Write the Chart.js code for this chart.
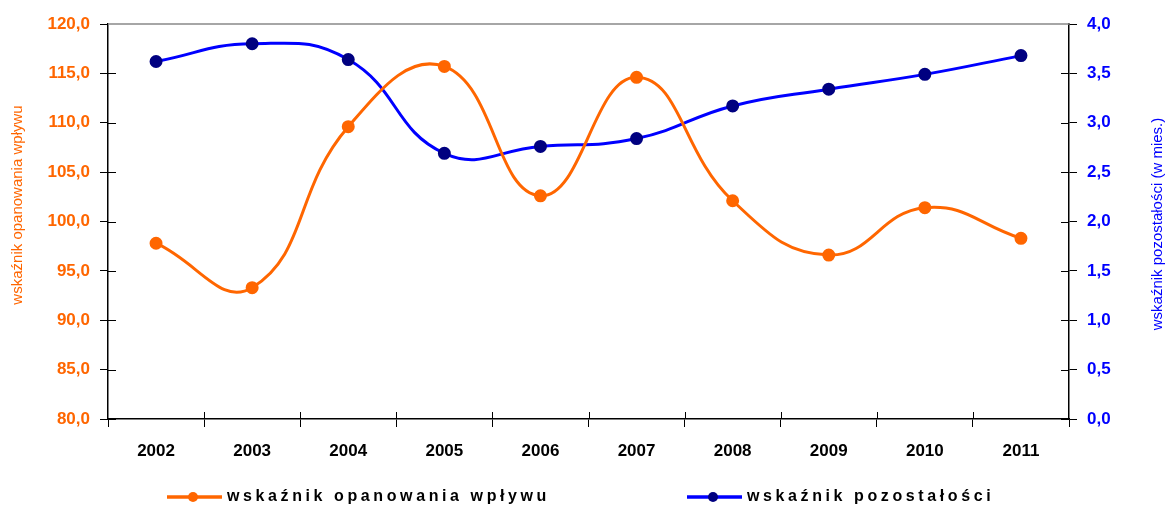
<!DOCTYPE html>
<html><head><meta charset="utf-8">
<script src="https://cdn.jsdelivr.net/npm/chart.js@4"></script>
<style>html,body{margin:0;padding:0;background:#fff}#wrap{width:1165px;height:507px}</style>
</head><body><div id="wrap"><canvas id="c" width="1165" height="507"></canvas></div>
<script>
const years = ['2002','2003','2004','2005','2006','2007','2008','2009','2010','2011'];
const opanowanie = [97.8, 93.3, 109.6, 115.7, 102.6, 114.6, 102.1, 96.6, 101.4, 98.3];
const pozostalosc = [3.62, 3.80, 3.64, 2.69, 2.76, 2.84, 3.17, 3.34, 3.49, 3.68];
const seriesNames = ['wskaźnik opanowania wpływu', 'wskaźnik pozostałości'];
const leftTitle = 'wskaźnik opanowania wpływu';
const rightTitle = 'wskaźnik pozostałości (w mies.)';

const ORANGE = '#FF6600', BLUE = '#0000FF', NAVY = '#000080';
const FONT = 'Arial, "Liberation Sans", sans-serif';
const fmt = v => Number(v).toFixed(1).replace('.', ',');

const extras = {
  id: 'extras',
  afterDraw(chart) {
    const ctx = chart.ctx, a = chart.chartArea;
    const x = chart.scales.x, y = chart.scales.y, y2 = chart.scales.y2;
    ctx.save();
    // top border
    ctx.strokeStyle = '#888'; ctx.lineWidth = 1.5;
    ctx.beginPath(); ctx.moveTo(a.left, a.top); ctx.lineTo(a.right, a.top); ctx.stroke();
    // inner tick marks
    ctx.strokeStyle = '#000'; ctx.lineWidth = 1;
    y.ticks.forEach((t, i) => {
      const py = Math.round(y.getPixelForTick(i)) + 0.5;
      if (i === y.ticks.length - 1) return;
      ctx.beginPath(); ctx.moveTo(a.left, py); ctx.lineTo(a.left + 8, py); ctx.stroke();
    });
    y2.ticks.forEach((t, i) => {
      const py = Math.round(y2.getPixelForTick(i)) + 0.5;
      if (i === y2.ticks.length - 1) return;
      ctx.beginPath(); ctx.moveTo(a.right - 8, py); ctx.lineTo(a.right, py); ctx.stroke();
    });
    for (let i = 0; i < years.length - 1; i++) {
      const px = Math.round((x.getPixelForValue(i) + x.getPixelForValue(i + 1)) / 2) + 0.5;
      ctx.beginPath(); ctx.moveTo(px, a.bottom); ctx.lineTo(px, a.bottom - 7); ctx.stroke();
    }
    // axis titles
    ctx.font = '15px ' + FONT; ctx.textAlign = 'center'; ctx.textBaseline = 'middle';
    ctx.fillStyle = ORANGE;
    ctx.save(); ctx.translate(17.5, 205); ctx.rotate(-Math.PI / 2); ctx.fillText(leftTitle, 0, 0); ctx.restore();
    ctx.fillStyle = BLUE;
    ctx.save(); ctx.translate(1158, 224); ctx.rotate(-Math.PI / 2); ctx.fillText(rightTitle, 0, 0); ctx.restore();
    // legend
    const items = [
      {x0: 167, ds: chart.data.datasets[0]},
      {x0: 687, ds: chart.data.datasets[1]}
    ];
    const ly = 497;
    items.forEach(it => {
      ctx.strokeStyle = it.ds.borderColor; ctx.lineWidth = 3.5;
      ctx.beginPath(); ctx.moveTo(it.x0, ly); ctx.lineTo(it.x0 + 55, ly); ctx.stroke();
      ctx.fillStyle = it.ds.pointBackgroundColor;
      ctx.beginPath(); ctx.arc(it.x0 + 26, ly, 5, 0, Math.PI * 2); ctx.fill();
      ctx.fillStyle = '#000'; ctx.font = 'bold 16px ' + FONT;
      ctx.textAlign = 'left'; ctx.textBaseline = 'middle';
      try { ctx.letterSpacing = '3.6px'; } catch (e) {}
      ctx.fillText(it.ds.label, it.x0 + 60, ly);
      try { ctx.letterSpacing = '0px'; } catch (e) {}
    });
    ctx.restore();
  }
};

new Chart(document.getElementById('c'), {
  type: 'line',
  data: {
    labels: years,
    datasets: [
      {
        label: seriesNames[0], data: opanowanie, yAxisID: 'y',
        borderColor: ORANGE, backgroundColor: ORANGE,
        pointBackgroundColor: ORANGE, pointBorderColor: ORANGE,
        borderWidth: 3, pointRadius: 5, tension: 0.45, fill: false
      },
      {
        label: seriesNames[1], data: pozostalosc, yAxisID: 'y2',
        borderColor: BLUE, backgroundColor: BLUE,
        pointBackgroundColor: NAVY, pointBorderColor: NAVY,
        borderWidth: 3, pointRadius: 5, tension: 0.45, fill: false
      }
    ]
  },
  options: {
    responsive: false, animation: false, devicePixelRatio: 1,
    layout: { padding: { top: 24, bottom: 38, left: 0, right: 0 } },
    plugins: { legend: { display: false }, tooltip: { enabled: false } },
    scales: {
      x: {
        type: 'category', offset: true,
        grid: { offset: true, drawOnChartArea: false, drawTicks: true, tickLength: 8, color: '#000' },
        border: { color: '#000', width: 1.5 },
        ticks: { color: '#000', font: { family: FONT, size: 17, weight: 'bold' }, padding: 14, maxRotation: 0 },
        afterFit: s => { s.height = 50; }
      },
      y: {
        position: 'left', min: 80, max: 120,
        ticks: { stepSize: 5, callback: fmt, color: ORANGE, font: { family: FONT, size: 17, weight: 'bold' }, padding: 10 },
        grid: { drawOnChartArea: false, tickLength: 8, color: '#000' },
        border: { color: '#000', width: 1.5 },
        afterFit: s => { s.width = 108; }
      },
      y2: {
        position: 'right', min: 0, max: 4,
        ticks: { stepSize: 0.5, callback: fmt, color: BLUE, font: { family: FONT, size: 17, weight: 'bold' }, padding: 10 },
        grid: { drawOnChartArea: false, tickLength: 8, color: '#000' },
        border: { color: '#000', width: 1.5 },
        afterFit: s => { s.width = 96; }
      }
    }
  },
  plugins: [extras]
});
</script>
</body></html>
